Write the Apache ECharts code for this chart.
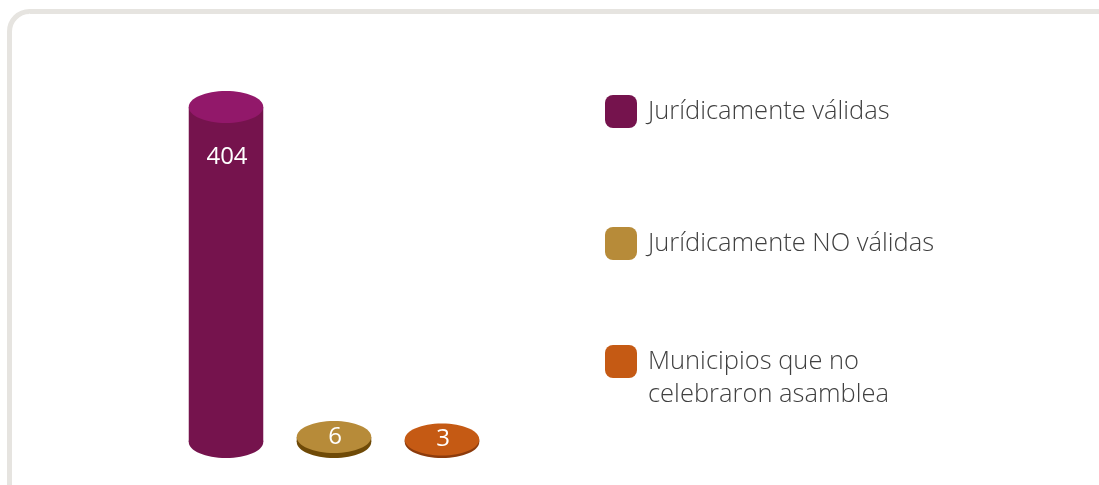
<!DOCTYPE html>
<html><head><meta charset="utf-8">
<script src="https://cdn.jsdelivr.net/npm/echarts@6/dist/echarts.min.js"></script>
<style>html,body{margin:0;padding:0;background:#fff}#c{width:1099px;height:485px}</style>
</head><body><div id="c"></div>
<script>
var categories = ['Jurídicamente válidas', 'Jurídicamente NO válidas', 'Municipios que no\ncelebraron asamblea'];
var values = [404, 6, 3];
var bodyColors = ['#75134d', '#6f4a07', '#8c3b0c'];
var topColors = ['#92186a', '#b78b39', '#c55a14'];
var legendColors = ['#75134d', '#b78b39', '#c55a14'];

var chart = echarts.init(document.getElementById('c'));

function makeRender(idx) {
  return function (params, api) {
    var x = api.value(0), v = api.value(1);
    var top = api.coord([x, v]);
    var base = api.coord([x, 0]);
    var band = api.size([1, 0])[0];
    var w = band * 0.69, rx = w / 2, ry = 15;
    var cx = top[0];
    var bodyH = base[1] - top[1];
    var labelY = bodyH > 60 ? top[1] + 50 : top[1];
    return {
      type: 'group',
      children: [
        { type: 'ellipse', shape: { cx: cx, cy: base[1], rx: rx, ry: ry + 1 }, style: { fill: bodyColors[idx] } },
        { type: 'rect', shape: { x: cx - rx, y: top[1], width: w, height: bodyH }, style: { fill: bodyColors[idx] } },
        { type: 'ellipse', shape: { cx: cx, cy: top[1], rx: rx, ry: ry + 1 }, style: { fill: topColors[idx] } },
        { type: 'text', x: cx + 1, y: labelY, style: { text: String(v), fill: '#ffffff', font: '24px "Open Sans"', align: 'center', verticalAlign: 'middle' } }
      ]
    };
  };
}

var series = categories.map(function (name, i) {
  return {
    name: name,
    type: 'custom',
    renderItem: makeRender(i),
    itemStyle: { color: legendColors[i] },
    encode: { x: 0, y: 1 },
    data: [[i, values[i]]]
  };
});

var legendText = { fontFamily: 'Open Sans', fontSize: 25.5, fontWeight: 300, color: '#404040', padding: [0, 0, 0, 6], lineHeight: 33 };

chart.setOption({
  animation: false,
  graphic: [{
    type: 'rect', shape: { x: 9.5, y: 11.5, width: 1200, height: 600, r: 20 },
    style: { fill: 'none', stroke: '#e6e4e0', lineWidth: 5 }, silent: true, z: -1
  }],
  grid: { left: 172, right: 603, top: 107, bottom: 43 },
  xAxis: { type: 'category', data: [0, 1, 2], show: false },
  yAxis: { type: 'value', min: 0, max: 404, show: false },
  legend: [{
    orient: 'vertical', left: 605, top: 95, padding: 0,
    itemWidth: 32, itemHeight: 33, itemGap: 99,
    icon: 'roundRect',
    data: categories.slice(0, 2).map(function (c, i) { return { name: c, itemStyle: { color: legendColors[i] } }; }),
    textStyle: legendText
  }, {
    orient: 'vertical', left: 605, top: 312, padding: 0,
    itemWidth: 32, itemHeight: 33,
    icon: 'roundRect',
    formatter: function (n) { return '\n' + n; },
    data: [{ name: categories[2], itemStyle: { color: legendColors[2] } }],
    textStyle: legendText
  }],
  series: series
});
</script></body></html>
